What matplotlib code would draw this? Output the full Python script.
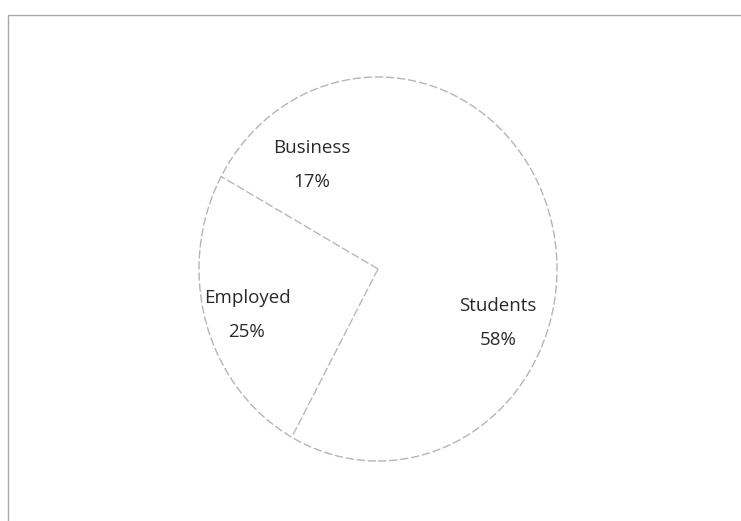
import numpy as np
import matplotlib
matplotlib.use("Agg")
import matplotlib.pyplot as plt
from matplotlib.patches import Rectangle, Circle

categories = ["Students", "Employed", "Business"]
values = [58, 25, 17]

plt.rcParams['font.family'] = ['Open Sans', 'DejaVu Sans']

W, H = 741, 521
fig = plt.figure(figsize=(W / 100, H / 100), dpi=100)
fig.patch.set_facecolor('white')

# outer frame (scanned border)
fig.add_artist(Rectangle((8 / W, -0.05), 1.1, (H - 15) / H + 0.05,
                         transform=fig.transFigure, fill=False,
                         edgecolor='#a9a9a9', linewidth=1.0))

# the scanned pie is slightly stretched vertically
RX, RY = 179, 192
cx, cy = 378, H - 269
ax = fig.add_axes([(cx - RX) / W, (cy - RY) / H, 2 * RX / W, 2 * RY / H])

wedges, _ = ax.pie(values, startangle=90, counterclock=False, radius=1.0,
                   colors=['white'] * 3,
                   wedgeprops=dict(edgecolor='none', linewidth=0))
ax.set_xlim(-1, 1)
ax.set_ylim(-1, 1)
ax.set_aspect('auto')
ax.axis('off')

# visible edges: outline + Employed wedge borders
ax.add_patch(Circle((0, 0), 1.0, fill=False, edgecolor='#b5b5b5',
                    linewidth=1.0, linestyle=(0, (6, 2)), clip_on=False))
emp = wedges[1]
for th in (emp.theta1, emp.theta2):
    t = np.deg2rad(th)
    ax.plot([0, np.cos(t)], [0, np.sin(t)], color='#b8b8b8', linewidth=1.0,
            linestyle=(0, (6, 2)))

label_r = [0.727, 0.77, 0.656]
label_shift = [-8.4, 1.9, 3.6]
for w, name, v, r, s in zip(wedges, categories, values, label_r, label_shift):
    mid = np.deg2rad((w.theta1 + w.theta2) / 2 + s)
    ax.text(r * np.cos(mid), r * np.sin(mid), f"{name}\n{v}%",
            ha='center', va='center', fontsize=13.5, color='#2a2a2a',
            linespacing=2.1)

fig.savefig("out.png", dpi=100, facecolor='white')
